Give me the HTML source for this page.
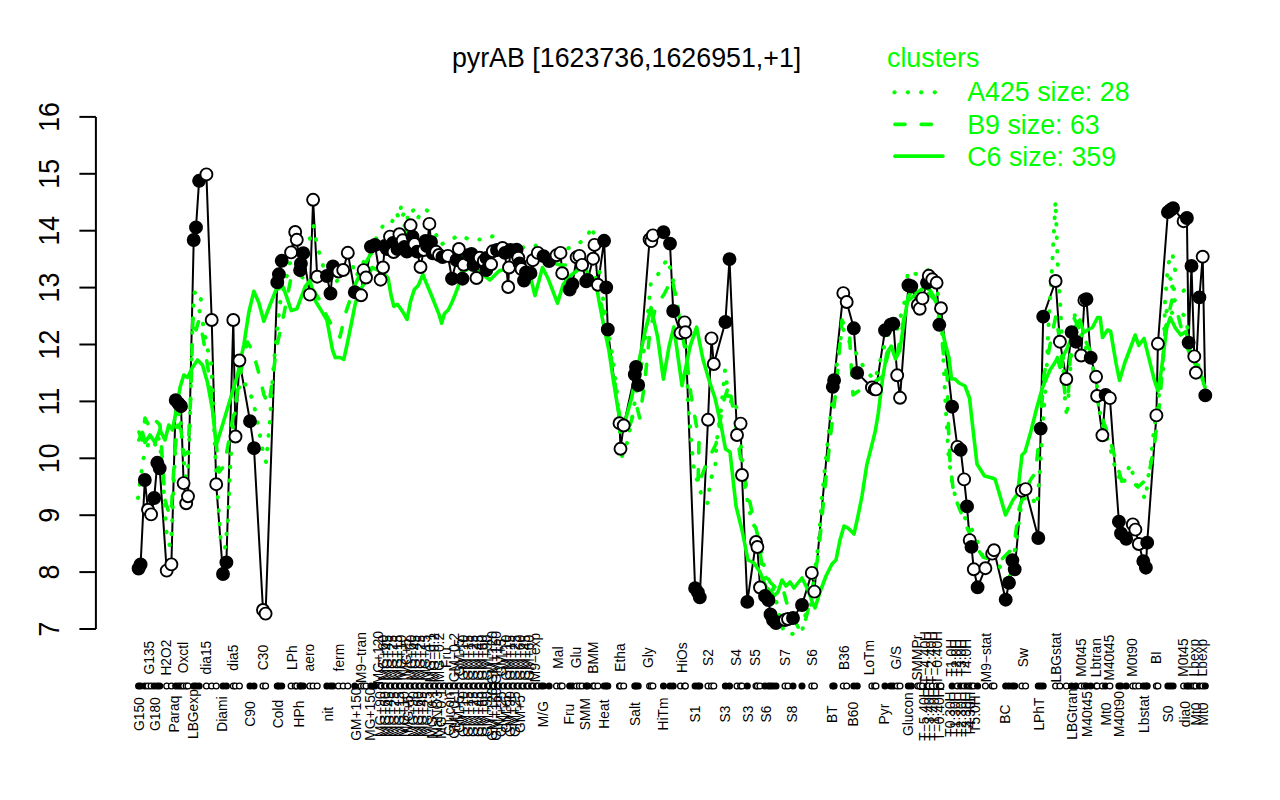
<!DOCTYPE html><html><head><meta charset="utf-8"><style>html,body{margin:0;padding:0;background:#fff;}svg{display:block}</style></head><body>
<svg width="1280" height="800" viewBox="0 0 1280 800" font-family="&quot;Liberation Sans&quot;, sans-serif">
<rect width="1280" height="800" fill="#fff"/>
<text x="626.6" y="67" font-size="26.8" text-anchor="middle" fill="#000">pyrAB [1623736,1626951,+1]</text>
<g stroke="#000" stroke-width="2" fill="none" stroke-linecap="butt">
<line x1="95.9" y1="117" x2="95.9" y2="629"/>
<line x1="79.4" y1="629.0" x2="95.9" y2="629.0"/>
<line x1="79.4" y1="572.1" x2="95.9" y2="572.1"/>
<line x1="79.4" y1="515.2" x2="95.9" y2="515.2"/>
<line x1="79.4" y1="458.3" x2="95.9" y2="458.3"/>
<line x1="79.4" y1="401.4" x2="95.9" y2="401.4"/>
<line x1="79.4" y1="344.5" x2="95.9" y2="344.5"/>
<line x1="79.4" y1="287.6" x2="95.9" y2="287.6"/>
<line x1="79.4" y1="230.7" x2="95.9" y2="230.7"/>
<line x1="79.4" y1="173.8" x2="95.9" y2="173.8"/>
<line x1="79.4" y1="116.9" x2="95.9" y2="116.9"/>
</g>
<g font-size="26.8" fill="#000" text-anchor="middle">
<text transform="translate(58.9,629.0) rotate(-90) scale(1,1.07)" x="0" y="0">7</text>
<text transform="translate(58.9,572.1) rotate(-90) scale(1,1.07)" x="0" y="0">8</text>
<text transform="translate(58.9,515.2) rotate(-90) scale(1,1.07)" x="0" y="0">9</text>
<text transform="translate(58.9,458.3) rotate(-90) scale(1,1.07)" x="0" y="0">10</text>
<text transform="translate(58.9,401.4) rotate(-90) scale(1,1.07)" x="0" y="0">11</text>
<text transform="translate(58.9,344.5) rotate(-90) scale(1,1.07)" x="0" y="0">12</text>
<text transform="translate(58.9,287.6) rotate(-90) scale(1,1.07)" x="0" y="0">13</text>
<text transform="translate(58.9,230.7) rotate(-90) scale(1,1.07)" x="0" y="0">14</text>
<text transform="translate(58.9,173.8) rotate(-90) scale(1,1.07)" x="0" y="0">15</text>
<text transform="translate(58.9,116.9) rotate(-90) scale(1,1.07)" x="0" y="0">16</text>
</g>
<path d="M138.6,568.5 L140.6,564.5 L144.8,480.0 L148.0,509.7 L151.1,514.4 L154.2,498.0 L157.3,462.8 L159.7,468.3 L166.7,570.6 L171.4,564.4 L175.7,400.1 L178.5,403.5 L181.0,406.2 L183.6,483.1 L186.2,503.3 L188.0,496.3 L193.7,240.0 L196.0,227.4 L199.1,180.8 L206.4,174.4 L211.7,320.0 L216.2,484.2 L223.0,574.0 L226.4,562.4 L233.3,320.0 L235.5,436.5 L239.4,360.5 L250.0,421.2 L254.0,448.2 L263.0,610.0 L265.6,613.6 L277.3,282.4 L278.9,274.3 L281.7,260.8 L291.1,252.4 L295.2,232.0 L296.8,239.8 L300.1,270.2 L300.9,263.7 L303.3,253.2 L309.8,294.6 L313.1,199.8 L317.2,276.7 L326.9,276.0 L330.5,293.5 L333.0,266.5 L338.5,271.5 L343.2,270.0 L347.8,252.8 L354.8,292.2 L361.1,295.3 L363.6,270.1 L366.0,277.5 L370.9,246.6 L374.9,245.0 L380.6,279.7 L383.0,267.5 L384.8,246.0 L387.0,249.0 L390.0,236.6 L393.0,243.0 L393.6,252.0 L397.5,249.0 L399.4,234.2 L402.7,240.3 L404.5,247.0 L406.9,251.6 L410.6,225.3 L412.5,236.6 L414.5,244.0 L417.2,251.6 L420.5,267.0 L423.8,250.0 L425.5,241.0 L427.0,246.0 L429.4,223.9 L431.0,242.0 L432.7,253.4 L436.1,251.8 L439.0,255.0 L442.5,257.0 L447.9,255.9 L452.0,278.7 L456.5,260.0 L458.9,249.0 L462.5,278.7 L463.7,264.8 L469.0,255.0 L471.5,254.0 L473.5,265.0 L476.5,278.0 L479.8,257.8 L483.8,261.0 L486.5,258.0 L486.3,270.0 L491.1,264.3 L492.8,251.3 L497.0,250.0 L502.5,248.0 L505.0,252.9 L508.2,287.0 L509.0,267.5 L510.5,250.0 L514.5,252.0 L516.6,249.6 L518.3,257.8 L519.5,263.5 L521.5,269.1 L524.0,280.5 L526.0,272.4 L530.5,273.2 L532.9,260.2 L537.8,252.9 L543.5,256.1 L549.1,261.0 L556.5,255.3 L560.5,252.9 L562.2,273.2 L569.7,289.6 L572.5,284.1 L576.6,257.3 L579.4,255.9 L582.1,264.9 L586.2,281.4 L587.6,280.0 L593.1,258.7 L594.5,244.9 L597.9,284.8 L604.1,240.8 L606.2,287.5 L607.8,329.5 L619.5,423.2 L620.5,448.8 L623.7,425.5 L634.8,374.5 L636.0,367.0 L638.2,385.0 L649.6,239.5 L651.3,241.1 L652.9,235.4 L663.5,232.2 L670.0,243.6 L673.2,311.0 L680.5,333.0 L684.6,322.4 L685.4,332.2 L695.1,588.2 L697.9,592.3 L699.8,597.3 L708.0,419.8 L711.5,338.4 L713.8,364.0 L725.4,322.0 L729.5,259.1 L737.0,435.0 L740.6,423.6 L742.0,475.0 L747.3,601.9 L756.0,542.0 L757.4,547.0 L760.0,587.5 L765.0,596.0 L768.5,600.0 L770.5,614.5 L773.0,620.0 L776.0,623.0 L785.0,620.0 L788.0,619.0 L793.0,618.0 L802.0,605.0 L811.8,572.9 L814.4,591.6 L832.8,386.8 L834.1,380.2 L843.3,293.1 L846.7,302.0 L853.8,328.3 L857.2,372.9 L871.9,387.5 L874.7,389.4 L876.0,389.4 L885.0,330.3 L890.6,324.7 L893.4,323.8 L897.2,375.3 L900.0,397.8 L908.4,285.3 L911.3,286.3 L917.8,305.0 L919.7,308.8 L922.5,298.4 L927.0,282.8 L928.8,275.8 L932.3,279.3 L936.6,282.8 L939.3,324.8 L941.0,308.2 L952.1,406.7 L957.4,446.9 L960.7,449.8 L964.1,479.4 L967.0,506.4 L969.7,540.1 L971.5,546.9 L973.8,569.3 L977.6,587.3 L985.4,568.2 L992.2,553.6 L994.0,550.2 L1005.7,599.7 L1009.0,582.8 L1012.4,560.3 L1014.7,569.3 L1021.9,490.6 L1025.6,489.1 L1038.3,538.0 L1040.7,428.6 L1043.2,316.7 L1055.6,281.0 L1059.9,341.7 L1066.3,379.0 L1071.6,332.1 L1075.9,341.7 L1081.2,355.5 L1084.4,300.2 L1086.5,299.1 L1090.7,357.7 L1096.1,376.8 L1097.1,396.0 L1102.4,435.3 L1105.6,394.9 L1109.9,398.1 L1118.9,521.7 L1121.0,533.5 L1126.2,538.8 L1132.8,524.4 L1135.4,529.6 L1138.8,544.0 L1143.3,561.1 L1145.9,567.7 L1147.2,542.7 L1156.4,415.4 L1157.9,343.8 L1167.9,212.1 L1170.5,210.0 L1173.1,208.1 L1183.6,221.2 L1186.9,218.0 L1188.6,342.6 L1191.5,265.9 L1194.3,356.4 L1195.9,372.7 L1199.4,297.4 L1202.7,256.7 L1205.3,395.4" fill="none" stroke="#000" stroke-width="2" stroke-linejoin="round"/>
<path d="M138.8,440.0 L142.5,432.5 L145.0,442.5 L150.0,435.0 L155.0,442.5 L160.0,430.0 L165.0,440.0 L168.8,425.0 L172.5,430.0 L176.3,410.0 L180.0,387.5 L183.8,375.0 L187.5,377.5 L192.5,367.5 L197.5,360.0 L202.5,365.0 L207.5,382.5 L212.5,410.0 L216.3,445.0 L222.5,425.0 L230.0,400.0 L237.5,375.0 L243.8,345.0 L248.8,312.5 L253.8,291.3 L258.8,302.5 L263.8,321.3 L270.0,305.0 L276.0,290.0 L282.8,286.3 L285.6,293.8 L291.3,310.6 L296.9,308.8 L302.5,293.8 L305.3,286.3 L310.0,280.6 L315.6,301.3 L321.3,310.6 L326.9,320.0 L329.7,335.0 L332.5,350.0 L335.3,357.5 L340.0,357.5 L343.8,359.4 L347.5,342.5 L351.3,323.8 L355.0,305.0 L358.8,291.9 L362.5,286.3 L368.0,277.0 L372.0,267.5 L378.0,270.0 L385.0,275.0 L388.1,278.1 L391.0,295.0 L393.8,306.3 L397.5,304.4 L400.3,308.2 L404.0,313.8 L407.0,319.4 L410.7,300.7 L414.4,289.4 L418.2,285.6 L422.9,274.4 L426.6,283.8 L431.3,295.0 L435.0,304.4 L438.8,313.8 L441.6,323.2 L444.4,313.8 L448.2,310.0 L451.9,302.5 L455.7,293.2 L458.5,285.6 L461.3,272.5 L470.0,268.0 L480.0,272.0 L486.0,277.0 L490.0,280.0 L499.0,271.0 L510.0,268.0 L520.0,270.0 L527.0,272.0 L531.3,280.6 L535.0,295.6 L542.5,267.5 L548.2,278.8 L557.5,303.2 L563.2,284.4 L570.0,276.0 L578.0,270.0 L585.0,265.0 L589.3,280.0 L595.8,281.5 L599.0,301.0 L604.0,327.0 L608.8,349.8 L613.7,382.4 L617.9,408.4 L621.8,431.1 L625.0,421.4 L631.5,398.6 L638.0,366.1 L644.6,333.6 L651.0,307.6 L657.6,336.8 L663.4,379.1 L669.0,346.6 L673.8,327.1 L682.0,385.6 L690.0,346.6 L696.6,327.1 L703.0,359.6 L709.0,380.0 L715.0,398.0 L721.0,425.0 L725.5,449.0 L730.0,452.0 L733.0,479.0 L736.0,506.0 L742.0,530.0 L748.0,560.0 L754.0,563.0 L760.0,572.0 L766.0,587.0 L772.0,593.0 L774.0,596.0 L778.0,592.0 L782.0,580.0 L786.0,586.0 L790.0,582.0 L794.0,588.0 L802.0,578.0 L808.0,590.0 L813.0,604.0 L815.0,608.0 L820.0,592.0 L826.0,576.0 L832.0,564.0 L836.0,560.0 L840.0,540.0 L844.0,526.0 L848.0,528.0 L854.0,534.0 L858.0,516.0 L862.0,496.0 L866.7,465.4 L872.5,442.4 L875.3,431.0 L878.2,413.7 L882.5,379.2 L886.8,353.3 L891.2,346.1 L895.5,359.0 L899.8,350.5 L904.0,321.7 L908.4,295.9 L912.7,290.0 L917.0,293.0 L924.2,287.2 L930.0,290.0 L935.7,300.0 L939.3,316.0 L942.8,333.5 L946.3,347.5 L949.0,358.0 L951.5,379.0 L955.0,379.0 L959.0,383.0 L965.0,386.0 L969.5,398.0 L972.5,425.0 L977.0,464.0 L984.5,476.0 L990.5,477.5 L995.0,479.0 L999.5,494.0 L1005.5,515.0 L1010.0,506.0 L1013.0,500.0 L1017.5,494.0 L1022.0,455.0 L1025.0,452.0 L1031.0,431.0 L1037.0,407.0 L1042.5,387.5 L1050.0,370.0 L1055.0,362.5 L1057.5,357.5 L1060.0,367.5 L1063.8,355.0 L1067.5,347.5 L1072.5,335.0 L1076.3,325.0 L1080.0,320.0 L1083.8,332.5 L1087.5,330.0 L1092.5,327.5 L1097.5,317.5 L1100.2,317.5 L1102.5,337.5 L1107.5,330.0 L1110.7,331.5 L1112.5,342.5 L1116.0,363.0 L1119.5,380.5 L1124.7,363.0 L1130.0,349.0 L1135.2,335.0 L1138.7,345.5 L1144.0,338.5 L1149.2,359.4 L1154.4,380.4 L1158.0,391.0 L1161.4,370.0 L1166.7,328.0 L1170.2,317.5 L1175.4,328.0 L1180.7,335.0 L1186.0,331.5 L1191.0,356.0 L1196.4,366.4 L1201.6,377.0 L1205.0,387.4" fill="none" stroke="#00ff00" stroke-width="3.6" stroke-linejoin="round" stroke-linecap="round"/>
<path d="M139.0,432.0 L142.0,440.0 L145.0,418.0 L150.0,428.0 L155.0,420.0 L160.0,425.0 L163.0,470.0 L165.0,500.0 L168.0,510.0 L171.0,516.0 L173.0,482.0 L175.0,450.0 L178.0,425.0 L181.0,430.0 L184.0,455.0 L188.0,452.0 L191.0,390.0 L193.0,315.0 L196.0,330.0 L199.0,320.0 L203.0,337.0 L209.0,375.0 L214.0,420.0 L219.0,472.0 L224.0,466.0 L229.0,440.0 L236.0,400.0 L242.0,365.0 L247.5,342.0 L253.0,352.0 L258.0,370.0 L264.0,395.0 L269.0,405.0 L273.0,375.0 L277.0,345.0 L282.8,320.0 L288.4,291.0 L293.0,268.0 L300.0,275.0 L310.0,285.0 L319.4,299.4 L323.0,308.8 L330.0,322.0 L334.4,331.0 L340.0,337.0 L345.6,313.0 L350.0,300.0 L355.0,285.0 L362.0,270.0 L370.0,255.0 L380.0,245.0 L390.0,240.0 L400.0,230.0 L405.0,225.0 L410.0,240.0 L420.0,245.0 L430.0,238.0 L440.0,250.0 L450.0,262.0 L460.0,255.0 L470.0,258.0 L480.0,255.0 L490.0,262.0 L500.0,258.0 L510.0,255.0 L520.0,260.0 L530.0,258.0 L540.0,255.0 L550.0,262.0 L560.0,265.0 L570.0,265.0 L580.0,262.0 L592.5,262.0 L597.0,285.0 L602.0,307.6 L605.5,320.6 L610.0,350.0 L615.3,385.6 L620.0,420.0 L625.0,430.0 L630.0,425.0 L636.4,405.0 L639.7,418.0 L645.0,380.0 L650.0,330.0 L655.0,310.0 L660.0,300.0 L664.0,294.5 L667.3,288.0 L672.2,278.3 L678.0,310.0 L686.8,359.6 L691.0,395.0 L699.0,440.0 L698.0,486.0 L707.0,462.0 L716.0,444.0 L724.0,400.0 L729.0,385.0 L735.0,420.0 L741.0,462.0 L752.0,512.0 L758.0,537.0 L762.0,566.0 L770.0,582.0 L776.0,588.0 L782.0,585.0 L787.0,604.0 L790.0,610.0 L798.0,627.0 L803.0,630.0 L808.0,610.0 L814.0,580.0 L818.0,556.0 L821.0,528.0 L823.6,500.0 L830.0,440.0 L836.0,390.0 L842.0,320.0 L849.5,336.0 L853.0,395.0 L860.0,390.0 L870.0,385.0 L882.5,376.3 L889.7,347.6 L897.0,356.0 L907.0,301.6 L915.0,295.0 L925.0,290.0 L935.0,300.0 L941.0,330.0 L944.3,362.0 L947.2,376.3 L948.6,431.0 L950.0,461.0 L953.0,488.0 L956.0,500.0 L962.0,515.0 L968.0,530.0 L977.0,548.0 L983.0,557.0 L992.0,560.0 L1001.0,560.0 L1010.0,551.0 L1014.5,542.0 L1019.0,509.0 L1025.0,491.0 L1031.0,479.0 L1035.5,473.0 L1040.0,430.0 L1044.0,375.0 L1052.5,332.5 L1056.0,315.0 L1061.0,350.0 L1065.0,395.0 L1068.0,400.0 L1072.5,315.0 L1080.0,330.0 L1090.0,350.0 L1100.0,415.0 L1103.0,420.0 L1110.0,440.0 L1122.0,482.0 L1130.0,480.0 L1138.0,487.0 L1148.0,478.0 L1154.0,448.0 L1160.0,400.0 L1165.0,330.0 L1172.0,300.0 L1178.0,315.0 L1183.0,335.0 L1190.0,355.0 L1197.0,375.0 L1205.0,390.0" fill="none" stroke="#00ff00" stroke-width="3.6" stroke-linejoin="round" stroke-linecap="round" stroke-dasharray="10.2 16.6"/>
<path d="M138.0,498.0 L141.0,475.0 L143.0,460.0 L146.0,450.0 L150.0,440.0 L155.0,445.0 L158.0,435.0 L162.0,460.0 L165.0,512.0 L167.0,538.0 L170.0,546.0 L172.0,530.0 L173.0,500.0 L175.0,455.0 L177.0,418.0 L180.0,412.0 L183.0,455.0 L186.0,478.0 L188.0,470.0 L190.0,420.0 L192.0,340.0 L193.7,293.5 L198.2,290.5 L201.0,300.0 L197.5,304.0 L202.7,322.0 L207.2,348.0 L211.0,361.0 L212.5,387.0 L215.0,450.0 L218.0,500.0 L221.0,545.0 L225.0,548.0 L228.0,520.0 L230.0,470.0 L233.0,425.0 L238.0,390.0 L243.0,380.0 L248.0,390.0 L253.0,400.0 L258.0,425.0 L263.0,452.0 L266.0,462.0 L270.0,420.0 L272.0,386.0 L274.0,361.0 L280.0,303.0 L286.6,277.0 L289.4,263.8 L295.0,258.0 L300.0,262.0 L305.0,252.0 L308.0,250.0 L311.0,232.0 L313.5,226.0 L316.0,240.0 L319.4,253.4 L323.0,265.6 L333.4,284.4 L340.0,278.0 L345.0,275.0 L352.2,263.8 L356.0,277.0 L362.0,265.0 L370.0,250.0 L378.0,235.0 L385.0,222.0 L392.0,222.0 L396.0,212.0 L399.0,218.0 L401.3,205.0 L403.0,215.0 L406.0,210.0 L408.0,220.0 L411.0,212.0 L415.3,208.8 L418.0,218.0 L421.0,212.0 L424.7,208.8 L428.5,211.6 L430.0,220.0 L435.0,232.0 L440.0,245.0 L450.0,240.0 L460.0,235.0 L470.0,240.0 L478.8,239.4 L486.3,239.4 L493.8,235.6 L500.0,248.0 L510.0,252.0 L520.0,248.0 L535.0,245.0 L545.0,255.0 L555.0,258.0 L565.0,250.0 L574.4,245.0 L585.0,240.0 L592.5,226.3 L598.0,260.0 L605.5,317.3 L612.0,353.0 L617.0,392.0 L621.8,457.0 L628.0,440.0 L634.8,402.0 L644.6,346.6 L651.0,281.5 L657.6,275.0 L667.3,258.8 L672.2,275.0 L680.3,320.6 L686.8,353.0 L688.0,404.0 L692.5,455.0 L694.0,470.0 L703.0,500.0 L707.5,503.0 L710.5,479.0 L715.0,470.0 L716.5,443.0 L721.0,410.0 L725.0,370.0 L727.0,385.0 L729.0,405.0 L733.0,398.0 L736.0,405.0 L739.0,425.0 L745.0,488.0 L751.0,518.0 L758.5,536.0 L766.0,578.0 L773.5,590.0 L784.0,633.0 L792.0,634.0 L802.0,632.0 L806.0,612.0 L810.0,610.0 L816.0,562.0 L818.0,548.0 L820.0,524.0 L822.0,496.0 L830.0,420.0 L836.0,370.0 L842.3,327.5 L852.4,347.6 L858.1,356.2 L865.0,370.0 L875.0,380.0 L883.0,350.0 L890.0,330.0 L897.0,330.0 L905.0,300.0 L908.0,271.0 L912.0,273.0 L920.0,275.0 L928.0,270.0 L935.0,280.0 L941.0,310.0 L945.5,404.0 L948.5,455.0 L951.5,479.0 L956.0,500.0 L965.0,518.0 L975.5,536.0 L981.5,554.0 L987.5,560.0 L995.0,557.0 L999.5,566.0 L1007.0,584.0 L1011.5,572.0 L1016.0,542.0 L1019.0,521.0 L1022.0,500.0 L1030.0,495.0 L1037.0,506.0 L1040.0,470.0 L1043.0,420.0 L1045.0,395.0 L1047.0,362.0 L1048.0,334.0 L1050.0,300.0 L1052.0,268.0 L1055.5,201.0 L1058.0,272.0 L1060.0,300.0 L1061.0,320.0 L1063.0,360.0 L1065.0,400.0 L1067.0,417.0 L1071.0,360.0 L1075.0,312.5 L1082.5,340.0 L1095.0,370.0 L1101.0,420.0 L1107.5,440.0 L1110.7,450.0 L1114.2,464.0 L1119.5,478.0 L1123.0,485.0 L1130.0,464.0 L1135.2,482.0 L1140.5,492.0 L1145.7,499.0 L1147.4,482.0 L1151.0,461.0 L1152.7,440.0 L1158.0,401.0 L1163.2,370.0 L1165.0,302.0 L1168.0,264.8 L1172.3,253.0 L1175.2,270.5 L1168.0,276.3 L1176.6,285.0 L1166.6,289.0 L1185.2,289.2 L1176.6,297.8 L1163.7,315.0 L1179.5,310.8 L1185.2,316.5 L1190.0,340.0 L1196.0,360.0 L1202.0,375.0 L1205.0,390.0" fill="none" stroke="#00ff00" stroke-width="4.0" stroke-linejoin="round" stroke-linecap="round" stroke-dasharray="0.5 12.9"/>
<circle cx="138.6" cy="568.5" r="6.0" fill="#000" stroke="#000" stroke-width="1.9"/>
<circle cx="140.6" cy="564.5" r="6.0" fill="#000" stroke="#000" stroke-width="1.9"/>
<circle cx="144.8" cy="480.0" r="6.0" fill="#000" stroke="#000" stroke-width="1.9"/>
<circle cx="148.0" cy="509.7" r="6.0" fill="#fff" stroke="#000" stroke-width="1.9"/>
<circle cx="151.1" cy="514.4" r="6.0" fill="#fff" stroke="#000" stroke-width="1.9"/>
<circle cx="154.2" cy="498.0" r="6.0" fill="#000" stroke="#000" stroke-width="1.9"/>
<circle cx="157.3" cy="462.8" r="6.0" fill="#000" stroke="#000" stroke-width="1.9"/>
<circle cx="159.7" cy="468.3" r="6.0" fill="#000" stroke="#000" stroke-width="1.9"/>
<circle cx="166.7" cy="570.6" r="6.0" fill="#fff" stroke="#000" stroke-width="1.9"/>
<circle cx="171.4" cy="564.4" r="6.0" fill="#fff" stroke="#000" stroke-width="1.9"/>
<circle cx="175.7" cy="400.1" r="6.0" fill="#000" stroke="#000" stroke-width="1.9"/>
<circle cx="178.5" cy="403.5" r="6.0" fill="#000" stroke="#000" stroke-width="1.9"/>
<circle cx="181.0" cy="406.2" r="6.0" fill="#000" stroke="#000" stroke-width="1.9"/>
<circle cx="183.6" cy="483.1" r="6.0" fill="#fff" stroke="#000" stroke-width="1.9"/>
<circle cx="186.2" cy="503.3" r="6.0" fill="#fff" stroke="#000" stroke-width="1.9"/>
<circle cx="188.0" cy="496.3" r="6.0" fill="#fff" stroke="#000" stroke-width="1.9"/>
<circle cx="193.7" cy="240.0" r="6.0" fill="#000" stroke="#000" stroke-width="1.9"/>
<circle cx="196.0" cy="227.4" r="6.0" fill="#000" stroke="#000" stroke-width="1.9"/>
<circle cx="199.1" cy="180.8" r="6.0" fill="#000" stroke="#000" stroke-width="1.9"/>
<circle cx="206.4" cy="174.4" r="6.0" fill="#fff" stroke="#000" stroke-width="1.9"/>
<circle cx="211.7" cy="320.0" r="6.0" fill="#fff" stroke="#000" stroke-width="1.9"/>
<circle cx="216.2" cy="484.2" r="6.0" fill="#fff" stroke="#000" stroke-width="1.9"/>
<circle cx="223.0" cy="574.0" r="6.0" fill="#000" stroke="#000" stroke-width="1.9"/>
<circle cx="226.4" cy="562.4" r="6.0" fill="#000" stroke="#000" stroke-width="1.9"/>
<circle cx="233.3" cy="320.0" r="6.0" fill="#fff" stroke="#000" stroke-width="1.9"/>
<circle cx="235.5" cy="436.5" r="6.0" fill="#fff" stroke="#000" stroke-width="1.9"/>
<circle cx="239.4" cy="360.5" r="6.0" fill="#fff" stroke="#000" stroke-width="1.9"/>
<circle cx="250.0" cy="421.2" r="6.0" fill="#000" stroke="#000" stroke-width="1.9"/>
<circle cx="254.0" cy="448.2" r="6.0" fill="#000" stroke="#000" stroke-width="1.9"/>
<circle cx="263.0" cy="610.0" r="6.0" fill="#fff" stroke="#000" stroke-width="1.9"/>
<circle cx="265.6" cy="613.6" r="6.0" fill="#fff" stroke="#000" stroke-width="1.9"/>
<circle cx="277.3" cy="282.4" r="6.0" fill="#000" stroke="#000" stroke-width="1.9"/>
<circle cx="278.9" cy="274.3" r="6.0" fill="#000" stroke="#000" stroke-width="1.9"/>
<circle cx="281.7" cy="260.8" r="6.0" fill="#000" stroke="#000" stroke-width="1.9"/>
<circle cx="291.1" cy="252.4" r="6.0" fill="#fff" stroke="#000" stroke-width="1.9"/>
<circle cx="295.2" cy="232.0" r="6.0" fill="#fff" stroke="#000" stroke-width="1.9"/>
<circle cx="296.8" cy="239.8" r="6.0" fill="#fff" stroke="#000" stroke-width="1.9"/>
<circle cx="300.1" cy="270.2" r="6.0" fill="#000" stroke="#000" stroke-width="1.9"/>
<circle cx="300.9" cy="263.7" r="6.0" fill="#000" stroke="#000" stroke-width="1.9"/>
<circle cx="303.3" cy="253.2" r="6.0" fill="#000" stroke="#000" stroke-width="1.9"/>
<circle cx="309.8" cy="294.6" r="6.0" fill="#fff" stroke="#000" stroke-width="1.9"/>
<circle cx="313.1" cy="199.8" r="6.0" fill="#fff" stroke="#000" stroke-width="1.9"/>
<circle cx="317.2" cy="276.7" r="6.0" fill="#fff" stroke="#000" stroke-width="1.9"/>
<circle cx="326.9" cy="276.0" r="6.0" fill="#000" stroke="#000" stroke-width="1.9"/>
<circle cx="330.5" cy="293.5" r="6.0" fill="#000" stroke="#000" stroke-width="1.9"/>
<circle cx="333.0" cy="266.5" r="6.0" fill="#000" stroke="#000" stroke-width="1.9"/>
<circle cx="338.5" cy="271.5" r="6.0" fill="#fff" stroke="#000" stroke-width="1.9"/>
<circle cx="343.2" cy="270.0" r="6.0" fill="#fff" stroke="#000" stroke-width="1.9"/>
<circle cx="347.8" cy="252.8" r="6.0" fill="#fff" stroke="#000" stroke-width="1.9"/>
<circle cx="354.8" cy="292.2" r="6.0" fill="#000" stroke="#000" stroke-width="1.9"/>
<circle cx="361.1" cy="295.3" r="6.0" fill="#fff" stroke="#000" stroke-width="1.9"/>
<circle cx="363.6" cy="270.1" r="6.0" fill="#fff" stroke="#000" stroke-width="1.9"/>
<circle cx="366.0" cy="277.5" r="6.0" fill="#fff" stroke="#000" stroke-width="1.9"/>
<circle cx="370.9" cy="246.6" r="6.0" fill="#000" stroke="#000" stroke-width="1.9"/>
<circle cx="374.9" cy="245.0" r="6.0" fill="#000" stroke="#000" stroke-width="1.9"/>
<circle cx="380.6" cy="279.7" r="6.0" fill="#fff" stroke="#000" stroke-width="1.9"/>
<circle cx="383.0" cy="267.5" r="6.0" fill="#fff" stroke="#000" stroke-width="1.9"/>
<circle cx="384.8" cy="246.0" r="6.0" fill="#000" stroke="#000" stroke-width="1.9"/>
<circle cx="387.0" cy="249.0" r="6.0" fill="#000" stroke="#000" stroke-width="1.9"/>
<circle cx="390.0" cy="236.6" r="6.0" fill="#fff" stroke="#000" stroke-width="1.9"/>
<circle cx="393.0" cy="243.0" r="6.0" fill="#000" stroke="#000" stroke-width="1.9"/>
<circle cx="393.6" cy="252.0" r="6.0" fill="#fff" stroke="#000" stroke-width="1.9"/>
<circle cx="397.5" cy="249.0" r="6.0" fill="#000" stroke="#000" stroke-width="1.9"/>
<circle cx="399.4" cy="234.2" r="6.0" fill="#fff" stroke="#000" stroke-width="1.9"/>
<circle cx="402.7" cy="240.3" r="6.0" fill="#fff" stroke="#000" stroke-width="1.9"/>
<circle cx="404.5" cy="247.0" r="6.0" fill="#000" stroke="#000" stroke-width="1.9"/>
<circle cx="406.9" cy="251.6" r="6.0" fill="#000" stroke="#000" stroke-width="1.9"/>
<circle cx="410.6" cy="225.3" r="6.0" fill="#fff" stroke="#000" stroke-width="1.9"/>
<circle cx="412.5" cy="236.6" r="6.0" fill="#000" stroke="#000" stroke-width="1.9"/>
<circle cx="414.5" cy="244.0" r="6.0" fill="#fff" stroke="#000" stroke-width="1.9"/>
<circle cx="417.2" cy="251.6" r="6.0" fill="#000" stroke="#000" stroke-width="1.9"/>
<circle cx="420.5" cy="267.0" r="6.0" fill="#fff" stroke="#000" stroke-width="1.9"/>
<circle cx="423.8" cy="250.0" r="6.0" fill="#fff" stroke="#000" stroke-width="1.9"/>
<circle cx="425.5" cy="241.0" r="6.0" fill="#000" stroke="#000" stroke-width="1.9"/>
<circle cx="427.0" cy="246.0" r="6.0" fill="#000" stroke="#000" stroke-width="1.9"/>
<circle cx="429.4" cy="223.9" r="6.0" fill="#fff" stroke="#000" stroke-width="1.9"/>
<circle cx="431.0" cy="242.0" r="6.0" fill="#000" stroke="#000" stroke-width="1.9"/>
<circle cx="432.7" cy="253.4" r="6.0" fill="#000" stroke="#000" stroke-width="1.9"/>
<circle cx="436.1" cy="251.8" r="6.0" fill="#fff" stroke="#000" stroke-width="1.9"/>
<circle cx="439.0" cy="255.0" r="6.0" fill="#fff" stroke="#000" stroke-width="1.9"/>
<circle cx="442.5" cy="257.0" r="6.0" fill="#000" stroke="#000" stroke-width="1.9"/>
<circle cx="447.9" cy="255.9" r="6.0" fill="#fff" stroke="#000" stroke-width="1.9"/>
<circle cx="452.0" cy="278.7" r="6.0" fill="#000" stroke="#000" stroke-width="1.9"/>
<circle cx="456.5" cy="260.0" r="6.0" fill="#000" stroke="#000" stroke-width="1.9"/>
<circle cx="458.9" cy="249.0" r="6.0" fill="#fff" stroke="#000" stroke-width="1.9"/>
<circle cx="462.5" cy="278.7" r="6.0" fill="#000" stroke="#000" stroke-width="1.9"/>
<circle cx="463.7" cy="264.8" r="6.0" fill="#fff" stroke="#000" stroke-width="1.9"/>
<circle cx="469.0" cy="255.0" r="6.0" fill="#000" stroke="#000" stroke-width="1.9"/>
<circle cx="471.5" cy="254.0" r="6.0" fill="#000" stroke="#000" stroke-width="1.9"/>
<circle cx="473.5" cy="265.0" r="6.0" fill="#000" stroke="#000" stroke-width="1.9"/>
<circle cx="476.5" cy="278.0" r="6.0" fill="#fff" stroke="#000" stroke-width="1.9"/>
<circle cx="479.8" cy="257.8" r="6.0" fill="#fff" stroke="#000" stroke-width="1.9"/>
<circle cx="483.8" cy="261.0" r="6.0" fill="#fff" stroke="#000" stroke-width="1.9"/>
<circle cx="486.5" cy="258.0" r="6.0" fill="#000" stroke="#000" stroke-width="1.9"/>
<circle cx="486.3" cy="270.0" r="6.0" fill="#000" stroke="#000" stroke-width="1.9"/>
<circle cx="491.1" cy="264.3" r="6.0" fill="#fff" stroke="#000" stroke-width="1.9"/>
<circle cx="492.8" cy="251.3" r="6.0" fill="#fff" stroke="#000" stroke-width="1.9"/>
<circle cx="497.0" cy="250.0" r="6.0" fill="#000" stroke="#000" stroke-width="1.9"/>
<circle cx="502.5" cy="248.0" r="6.0" fill="#fff" stroke="#000" stroke-width="1.9"/>
<circle cx="505.0" cy="252.9" r="6.0" fill="#000" stroke="#000" stroke-width="1.9"/>
<circle cx="508.2" cy="287.0" r="6.0" fill="#fff" stroke="#000" stroke-width="1.9"/>
<circle cx="509.0" cy="267.5" r="6.0" fill="#fff" stroke="#000" stroke-width="1.9"/>
<circle cx="510.5" cy="250.0" r="6.0" fill="#000" stroke="#000" stroke-width="1.9"/>
<circle cx="514.5" cy="252.0" r="6.0" fill="#000" stroke="#000" stroke-width="1.9"/>
<circle cx="516.6" cy="249.6" r="6.0" fill="#000" stroke="#000" stroke-width="1.9"/>
<circle cx="518.3" cy="257.8" r="6.0" fill="#fff" stroke="#000" stroke-width="1.9"/>
<circle cx="519.5" cy="263.5" r="6.0" fill="#000" stroke="#000" stroke-width="1.9"/>
<circle cx="521.5" cy="269.1" r="6.0" fill="#fff" stroke="#000" stroke-width="1.9"/>
<circle cx="524.0" cy="280.5" r="6.0" fill="#000" stroke="#000" stroke-width="1.9"/>
<circle cx="526.0" cy="272.4" r="6.0" fill="#000" stroke="#000" stroke-width="1.9"/>
<circle cx="530.5" cy="273.2" r="6.0" fill="#000" stroke="#000" stroke-width="1.9"/>
<circle cx="532.9" cy="260.2" r="6.0" fill="#fff" stroke="#000" stroke-width="1.9"/>
<circle cx="537.8" cy="252.9" r="6.0" fill="#fff" stroke="#000" stroke-width="1.9"/>
<circle cx="543.5" cy="256.1" r="6.0" fill="#000" stroke="#000" stroke-width="1.9"/>
<circle cx="549.1" cy="261.0" r="6.0" fill="#000" stroke="#000" stroke-width="1.9"/>
<circle cx="556.5" cy="255.3" r="6.0" fill="#fff" stroke="#000" stroke-width="1.9"/>
<circle cx="560.5" cy="252.9" r="6.0" fill="#fff" stroke="#000" stroke-width="1.9"/>
<circle cx="562.2" cy="273.2" r="6.0" fill="#fff" stroke="#000" stroke-width="1.9"/>
<circle cx="569.7" cy="289.6" r="6.0" fill="#000" stroke="#000" stroke-width="1.9"/>
<circle cx="572.5" cy="284.1" r="6.0" fill="#000" stroke="#000" stroke-width="1.9"/>
<circle cx="576.6" cy="257.3" r="6.0" fill="#fff" stroke="#000" stroke-width="1.9"/>
<circle cx="579.4" cy="255.9" r="6.0" fill="#fff" stroke="#000" stroke-width="1.9"/>
<circle cx="582.1" cy="264.9" r="6.0" fill="#fff" stroke="#000" stroke-width="1.9"/>
<circle cx="586.2" cy="281.4" r="6.0" fill="#000" stroke="#000" stroke-width="1.9"/>
<circle cx="587.6" cy="280.0" r="6.0" fill="#000" stroke="#000" stroke-width="1.9"/>
<circle cx="593.1" cy="258.7" r="6.0" fill="#fff" stroke="#000" stroke-width="1.9"/>
<circle cx="594.5" cy="244.9" r="6.0" fill="#fff" stroke="#000" stroke-width="1.9"/>
<circle cx="597.9" cy="284.8" r="6.0" fill="#fff" stroke="#000" stroke-width="1.9"/>
<circle cx="604.1" cy="240.8" r="6.0" fill="#000" stroke="#000" stroke-width="1.9"/>
<circle cx="606.2" cy="287.5" r="6.0" fill="#000" stroke="#000" stroke-width="1.9"/>
<circle cx="607.8" cy="329.5" r="6.0" fill="#000" stroke="#000" stroke-width="1.9"/>
<circle cx="619.5" cy="423.2" r="6.0" fill="#fff" stroke="#000" stroke-width="1.9"/>
<circle cx="620.5" cy="448.8" r="6.0" fill="#fff" stroke="#000" stroke-width="1.9"/>
<circle cx="623.7" cy="425.5" r="6.0" fill="#fff" stroke="#000" stroke-width="1.9"/>
<circle cx="634.8" cy="374.5" r="6.0" fill="#000" stroke="#000" stroke-width="1.9"/>
<circle cx="636.0" cy="367.0" r="6.0" fill="#000" stroke="#000" stroke-width="1.9"/>
<circle cx="638.2" cy="385.0" r="6.0" fill="#000" stroke="#000" stroke-width="1.9"/>
<circle cx="649.6" cy="239.5" r="6.0" fill="#fff" stroke="#000" stroke-width="1.9"/>
<circle cx="651.3" cy="241.1" r="6.0" fill="#fff" stroke="#000" stroke-width="1.9"/>
<circle cx="652.9" cy="235.4" r="6.0" fill="#fff" stroke="#000" stroke-width="1.9"/>
<circle cx="663.5" cy="232.2" r="6.0" fill="#000" stroke="#000" stroke-width="1.9"/>
<circle cx="670.0" cy="243.6" r="6.0" fill="#000" stroke="#000" stroke-width="1.9"/>
<circle cx="673.2" cy="311.0" r="6.0" fill="#000" stroke="#000" stroke-width="1.9"/>
<circle cx="680.5" cy="333.0" r="6.0" fill="#fff" stroke="#000" stroke-width="1.9"/>
<circle cx="684.6" cy="322.4" r="6.0" fill="#fff" stroke="#000" stroke-width="1.9"/>
<circle cx="685.4" cy="332.2" r="6.0" fill="#fff" stroke="#000" stroke-width="1.9"/>
<circle cx="695.1" cy="588.2" r="6.0" fill="#000" stroke="#000" stroke-width="1.9"/>
<circle cx="697.9" cy="592.3" r="6.0" fill="#000" stroke="#000" stroke-width="1.9"/>
<circle cx="699.8" cy="597.3" r="6.0" fill="#000" stroke="#000" stroke-width="1.9"/>
<circle cx="708.0" cy="419.8" r="6.0" fill="#fff" stroke="#000" stroke-width="1.9"/>
<circle cx="711.5" cy="338.4" r="6.0" fill="#fff" stroke="#000" stroke-width="1.9"/>
<circle cx="713.8" cy="364.0" r="6.0" fill="#fff" stroke="#000" stroke-width="1.9"/>
<circle cx="725.4" cy="322.0" r="6.0" fill="#000" stroke="#000" stroke-width="1.9"/>
<circle cx="729.5" cy="259.1" r="6.0" fill="#000" stroke="#000" stroke-width="1.9"/>
<circle cx="737.0" cy="435.0" r="6.0" fill="#fff" stroke="#000" stroke-width="1.9"/>
<circle cx="740.6" cy="423.6" r="6.0" fill="#fff" stroke="#000" stroke-width="1.9"/>
<circle cx="742.0" cy="475.0" r="6.0" fill="#fff" stroke="#000" stroke-width="1.9"/>
<circle cx="747.3" cy="601.9" r="6.0" fill="#000" stroke="#000" stroke-width="1.9"/>
<circle cx="756.0" cy="542.0" r="6.0" fill="#fff" stroke="#000" stroke-width="1.9"/>
<circle cx="757.4" cy="547.0" r="6.0" fill="#fff" stroke="#000" stroke-width="1.9"/>
<circle cx="760.0" cy="587.5" r="6.0" fill="#fff" stroke="#000" stroke-width="1.9"/>
<circle cx="765.0" cy="596.0" r="6.0" fill="#000" stroke="#000" stroke-width="1.9"/>
<circle cx="768.5" cy="600.0" r="6.0" fill="#000" stroke="#000" stroke-width="1.9"/>
<circle cx="770.5" cy="614.5" r="6.0" fill="#000" stroke="#000" stroke-width="1.9"/>
<circle cx="773.0" cy="620.0" r="6.0" fill="#000" stroke="#000" stroke-width="1.9"/>
<circle cx="776.0" cy="623.0" r="6.0" fill="#000" stroke="#000" stroke-width="1.9"/>
<circle cx="785.0" cy="620.0" r="6.0" fill="#fff" stroke="#000" stroke-width="1.9"/>
<circle cx="788.0" cy="619.0" r="6.0" fill="#fff" stroke="#000" stroke-width="1.9"/>
<circle cx="793.0" cy="618.0" r="6.0" fill="#000" stroke="#000" stroke-width="1.9"/>
<circle cx="802.0" cy="605.0" r="6.0" fill="#000" stroke="#000" stroke-width="1.9"/>
<circle cx="811.8" cy="572.9" r="6.0" fill="#fff" stroke="#000" stroke-width="1.9"/>
<circle cx="814.4" cy="591.6" r="6.0" fill="#fff" stroke="#000" stroke-width="1.9"/>
<circle cx="832.8" cy="386.8" r="6.0" fill="#000" stroke="#000" stroke-width="1.9"/>
<circle cx="834.1" cy="380.2" r="6.0" fill="#000" stroke="#000" stroke-width="1.9"/>
<circle cx="843.3" cy="293.1" r="6.0" fill="#fff" stroke="#000" stroke-width="1.9"/>
<circle cx="846.7" cy="302.0" r="6.0" fill="#fff" stroke="#000" stroke-width="1.9"/>
<circle cx="853.8" cy="328.3" r="6.0" fill="#000" stroke="#000" stroke-width="1.9"/>
<circle cx="857.2" cy="372.9" r="6.0" fill="#000" stroke="#000" stroke-width="1.9"/>
<circle cx="871.9" cy="387.5" r="6.0" fill="#fff" stroke="#000" stroke-width="1.9"/>
<circle cx="874.7" cy="389.4" r="6.0" fill="#fff" stroke="#000" stroke-width="1.9"/>
<circle cx="876.0" cy="389.4" r="6.0" fill="#fff" stroke="#000" stroke-width="1.9"/>
<circle cx="885.0" cy="330.3" r="6.0" fill="#000" stroke="#000" stroke-width="1.9"/>
<circle cx="890.6" cy="324.7" r="6.0" fill="#000" stroke="#000" stroke-width="1.9"/>
<circle cx="893.4" cy="323.8" r="6.0" fill="#000" stroke="#000" stroke-width="1.9"/>
<circle cx="897.2" cy="375.3" r="6.0" fill="#fff" stroke="#000" stroke-width="1.9"/>
<circle cx="900.0" cy="397.8" r="6.0" fill="#fff" stroke="#000" stroke-width="1.9"/>
<circle cx="908.4" cy="285.3" r="6.0" fill="#000" stroke="#000" stroke-width="1.9"/>
<circle cx="911.3" cy="286.3" r="6.0" fill="#000" stroke="#000" stroke-width="1.9"/>
<circle cx="917.8" cy="305.0" r="6.0" fill="#fff" stroke="#000" stroke-width="1.9"/>
<circle cx="919.7" cy="308.8" r="6.0" fill="#fff" stroke="#000" stroke-width="1.9"/>
<circle cx="922.5" cy="298.4" r="6.0" fill="#fff" stroke="#000" stroke-width="1.9"/>
<circle cx="927.0" cy="282.8" r="6.0" fill="#000" stroke="#000" stroke-width="1.9"/>
<circle cx="928.8" cy="275.8" r="6.0" fill="#fff" stroke="#000" stroke-width="1.9"/>
<circle cx="932.3" cy="279.3" r="6.0" fill="#fff" stroke="#000" stroke-width="1.9"/>
<circle cx="936.6" cy="282.8" r="6.0" fill="#fff" stroke="#000" stroke-width="1.9"/>
<circle cx="939.3" cy="324.8" r="6.0" fill="#000" stroke="#000" stroke-width="1.9"/>
<circle cx="941.0" cy="308.2" r="6.0" fill="#fff" stroke="#000" stroke-width="1.9"/>
<circle cx="952.1" cy="406.7" r="6.0" fill="#000" stroke="#000" stroke-width="1.9"/>
<circle cx="957.4" cy="446.9" r="6.0" fill="#fff" stroke="#000" stroke-width="1.9"/>
<circle cx="960.7" cy="449.8" r="6.0" fill="#000" stroke="#000" stroke-width="1.9"/>
<circle cx="964.1" cy="479.4" r="6.0" fill="#fff" stroke="#000" stroke-width="1.9"/>
<circle cx="967.0" cy="506.4" r="6.0" fill="#000" stroke="#000" stroke-width="1.9"/>
<circle cx="969.7" cy="540.1" r="6.0" fill="#fff" stroke="#000" stroke-width="1.9"/>
<circle cx="971.5" cy="546.9" r="6.0" fill="#000" stroke="#000" stroke-width="1.9"/>
<circle cx="973.8" cy="569.3" r="6.0" fill="#fff" stroke="#000" stroke-width="1.9"/>
<circle cx="977.6" cy="587.3" r="6.0" fill="#000" stroke="#000" stroke-width="1.9"/>
<circle cx="985.4" cy="568.2" r="6.0" fill="#fff" stroke="#000" stroke-width="1.9"/>
<circle cx="992.2" cy="553.6" r="6.0" fill="#fff" stroke="#000" stroke-width="1.9"/>
<circle cx="994.0" cy="550.2" r="6.0" fill="#fff" stroke="#000" stroke-width="1.9"/>
<circle cx="1005.7" cy="599.7" r="6.0" fill="#000" stroke="#000" stroke-width="1.9"/>
<circle cx="1009.0" cy="582.8" r="6.0" fill="#000" stroke="#000" stroke-width="1.9"/>
<circle cx="1012.4" cy="560.3" r="6.0" fill="#000" stroke="#000" stroke-width="1.9"/>
<circle cx="1014.7" cy="569.3" r="6.0" fill="#000" stroke="#000" stroke-width="1.9"/>
<circle cx="1021.9" cy="490.6" r="6.0" fill="#fff" stroke="#000" stroke-width="1.9"/>
<circle cx="1025.6" cy="489.1" r="6.0" fill="#fff" stroke="#000" stroke-width="1.9"/>
<circle cx="1038.3" cy="538.0" r="6.0" fill="#000" stroke="#000" stroke-width="1.9"/>
<circle cx="1040.7" cy="428.6" r="6.0" fill="#000" stroke="#000" stroke-width="1.9"/>
<circle cx="1043.2" cy="316.7" r="6.0" fill="#000" stroke="#000" stroke-width="1.9"/>
<circle cx="1055.6" cy="281.0" r="6.0" fill="#fff" stroke="#000" stroke-width="1.9"/>
<circle cx="1059.9" cy="341.7" r="6.0" fill="#fff" stroke="#000" stroke-width="1.9"/>
<circle cx="1066.3" cy="379.0" r="6.0" fill="#fff" stroke="#000" stroke-width="1.9"/>
<circle cx="1071.6" cy="332.1" r="6.0" fill="#000" stroke="#000" stroke-width="1.9"/>
<circle cx="1075.9" cy="341.7" r="6.0" fill="#000" stroke="#000" stroke-width="1.9"/>
<circle cx="1081.2" cy="355.5" r="6.0" fill="#fff" stroke="#000" stroke-width="1.9"/>
<circle cx="1084.4" cy="300.2" r="6.0" fill="#fff" stroke="#000" stroke-width="1.9"/>
<circle cx="1086.5" cy="299.1" r="6.0" fill="#000" stroke="#000" stroke-width="1.9"/>
<circle cx="1090.7" cy="357.7" r="6.0" fill="#000" stroke="#000" stroke-width="1.9"/>
<circle cx="1096.1" cy="376.8" r="6.0" fill="#fff" stroke="#000" stroke-width="1.9"/>
<circle cx="1097.1" cy="396.0" r="6.0" fill="#fff" stroke="#000" stroke-width="1.9"/>
<circle cx="1102.4" cy="435.3" r="6.0" fill="#fff" stroke="#000" stroke-width="1.9"/>
<circle cx="1105.6" cy="394.9" r="6.0" fill="#000" stroke="#000" stroke-width="1.9"/>
<circle cx="1109.9" cy="398.1" r="6.0" fill="#fff" stroke="#000" stroke-width="1.9"/>
<circle cx="1118.9" cy="521.7" r="6.0" fill="#000" stroke="#000" stroke-width="1.9"/>
<circle cx="1121.0" cy="533.5" r="6.0" fill="#000" stroke="#000" stroke-width="1.9"/>
<circle cx="1126.2" cy="538.8" r="6.0" fill="#000" stroke="#000" stroke-width="1.9"/>
<circle cx="1132.8" cy="524.4" r="6.0" fill="#fff" stroke="#000" stroke-width="1.9"/>
<circle cx="1135.4" cy="529.6" r="6.0" fill="#fff" stroke="#000" stroke-width="1.9"/>
<circle cx="1138.8" cy="544.0" r="6.0" fill="#fff" stroke="#000" stroke-width="1.9"/>
<circle cx="1143.3" cy="561.1" r="6.0" fill="#000" stroke="#000" stroke-width="1.9"/>
<circle cx="1145.9" cy="567.7" r="6.0" fill="#000" stroke="#000" stroke-width="1.9"/>
<circle cx="1147.2" cy="542.7" r="6.0" fill="#000" stroke="#000" stroke-width="1.9"/>
<circle cx="1156.4" cy="415.4" r="6.0" fill="#fff" stroke="#000" stroke-width="1.9"/>
<circle cx="1157.9" cy="343.8" r="6.0" fill="#fff" stroke="#000" stroke-width="1.9"/>
<circle cx="1167.9" cy="212.1" r="6.0" fill="#000" stroke="#000" stroke-width="1.9"/>
<circle cx="1170.5" cy="210.0" r="6.0" fill="#000" stroke="#000" stroke-width="1.9"/>
<circle cx="1173.1" cy="208.1" r="6.0" fill="#000" stroke="#000" stroke-width="1.9"/>
<circle cx="1183.6" cy="221.2" r="6.0" fill="#fff" stroke="#000" stroke-width="1.9"/>
<circle cx="1186.9" cy="218.0" r="6.0" fill="#000" stroke="#000" stroke-width="1.9"/>
<circle cx="1188.6" cy="342.6" r="6.0" fill="#000" stroke="#000" stroke-width="1.9"/>
<circle cx="1191.5" cy="265.9" r="6.0" fill="#000" stroke="#000" stroke-width="1.9"/>
<circle cx="1194.3" cy="356.4" r="6.0" fill="#fff" stroke="#000" stroke-width="1.9"/>
<circle cx="1195.9" cy="372.7" r="6.0" fill="#fff" stroke="#000" stroke-width="1.9"/>
<circle cx="1199.4" cy="297.4" r="6.0" fill="#000" stroke="#000" stroke-width="1.9"/>
<circle cx="1202.7" cy="256.7" r="6.0" fill="#fff" stroke="#000" stroke-width="1.9"/>
<circle cx="1205.3" cy="395.4" r="6.0" fill="#000" stroke="#000" stroke-width="1.9"/>
<circle cx="138.6" cy="686" r="2.9" fill="#000" stroke="#000" stroke-width="1.3"/>
<circle cx="140.6" cy="686" r="2.9" fill="#000" stroke="#000" stroke-width="1.3"/>
<circle cx="144.8" cy="686" r="2.9" fill="#000" stroke="#000" stroke-width="1.3"/>
<circle cx="148.0" cy="686" r="2.9" fill="#fff" stroke="#000" stroke-width="1.3"/>
<circle cx="151.1" cy="686" r="2.9" fill="#fff" stroke="#000" stroke-width="1.3"/>
<circle cx="154.2" cy="686" r="2.9" fill="#000" stroke="#000" stroke-width="1.3"/>
<circle cx="157.3" cy="686" r="2.9" fill="#000" stroke="#000" stroke-width="1.3"/>
<circle cx="159.7" cy="686" r="2.9" fill="#000" stroke="#000" stroke-width="1.3"/>
<circle cx="166.7" cy="686" r="2.9" fill="#fff" stroke="#000" stroke-width="1.3"/>
<circle cx="171.4" cy="686" r="2.9" fill="#fff" stroke="#000" stroke-width="1.3"/>
<circle cx="175.7" cy="686" r="2.9" fill="#000" stroke="#000" stroke-width="1.3"/>
<circle cx="178.5" cy="686" r="2.9" fill="#000" stroke="#000" stroke-width="1.3"/>
<circle cx="181.0" cy="686" r="2.9" fill="#000" stroke="#000" stroke-width="1.3"/>
<circle cx="183.6" cy="686" r="2.9" fill="#fff" stroke="#000" stroke-width="1.3"/>
<circle cx="186.2" cy="686" r="2.9" fill="#fff" stroke="#000" stroke-width="1.3"/>
<circle cx="188.0" cy="686" r="2.9" fill="#fff" stroke="#000" stroke-width="1.3"/>
<circle cx="193.7" cy="686" r="2.9" fill="#000" stroke="#000" stroke-width="1.3"/>
<circle cx="196.0" cy="686" r="2.9" fill="#000" stroke="#000" stroke-width="1.3"/>
<circle cx="199.1" cy="686" r="2.9" fill="#000" stroke="#000" stroke-width="1.3"/>
<circle cx="206.4" cy="686" r="2.9" fill="#fff" stroke="#000" stroke-width="1.3"/>
<circle cx="211.7" cy="686" r="2.9" fill="#fff" stroke="#000" stroke-width="1.3"/>
<circle cx="216.2" cy="686" r="2.9" fill="#fff" stroke="#000" stroke-width="1.3"/>
<circle cx="223.0" cy="686" r="2.9" fill="#000" stroke="#000" stroke-width="1.3"/>
<circle cx="226.4" cy="686" r="2.9" fill="#000" stroke="#000" stroke-width="1.3"/>
<circle cx="233.3" cy="686" r="2.9" fill="#fff" stroke="#000" stroke-width="1.3"/>
<circle cx="235.5" cy="686" r="2.9" fill="#fff" stroke="#000" stroke-width="1.3"/>
<circle cx="239.4" cy="686" r="2.9" fill="#fff" stroke="#000" stroke-width="1.3"/>
<circle cx="250.0" cy="686" r="2.9" fill="#000" stroke="#000" stroke-width="1.3"/>
<circle cx="254.0" cy="686" r="2.9" fill="#000" stroke="#000" stroke-width="1.3"/>
<circle cx="263.0" cy="686" r="2.9" fill="#fff" stroke="#000" stroke-width="1.3"/>
<circle cx="265.6" cy="686" r="2.9" fill="#fff" stroke="#000" stroke-width="1.3"/>
<circle cx="277.3" cy="686" r="2.9" fill="#000" stroke="#000" stroke-width="1.3"/>
<circle cx="278.9" cy="686" r="2.9" fill="#000" stroke="#000" stroke-width="1.3"/>
<circle cx="281.7" cy="686" r="2.9" fill="#000" stroke="#000" stroke-width="1.3"/>
<circle cx="291.1" cy="686" r="2.9" fill="#fff" stroke="#000" stroke-width="1.3"/>
<circle cx="295.2" cy="686" r="2.9" fill="#fff" stroke="#000" stroke-width="1.3"/>
<circle cx="296.8" cy="686" r="2.9" fill="#fff" stroke="#000" stroke-width="1.3"/>
<circle cx="300.1" cy="686" r="2.9" fill="#000" stroke="#000" stroke-width="1.3"/>
<circle cx="300.9" cy="686" r="2.9" fill="#000" stroke="#000" stroke-width="1.3"/>
<circle cx="303.3" cy="686" r="2.9" fill="#000" stroke="#000" stroke-width="1.3"/>
<circle cx="309.8" cy="686" r="2.9" fill="#fff" stroke="#000" stroke-width="1.3"/>
<circle cx="313.1" cy="686" r="2.9" fill="#fff" stroke="#000" stroke-width="1.3"/>
<circle cx="317.2" cy="686" r="2.9" fill="#fff" stroke="#000" stroke-width="1.3"/>
<circle cx="326.9" cy="686" r="2.9" fill="#000" stroke="#000" stroke-width="1.3"/>
<circle cx="330.5" cy="686" r="2.9" fill="#000" stroke="#000" stroke-width="1.3"/>
<circle cx="333.0" cy="686" r="2.9" fill="#000" stroke="#000" stroke-width="1.3"/>
<circle cx="338.5" cy="686" r="2.9" fill="#fff" stroke="#000" stroke-width="1.3"/>
<circle cx="343.2" cy="686" r="2.9" fill="#fff" stroke="#000" stroke-width="1.3"/>
<circle cx="347.8" cy="686" r="2.9" fill="#fff" stroke="#000" stroke-width="1.3"/>
<circle cx="354.8" cy="686" r="2.9" fill="#000" stroke="#000" stroke-width="1.3"/>
<circle cx="361.1" cy="686" r="2.9" fill="#fff" stroke="#000" stroke-width="1.3"/>
<circle cx="363.6" cy="686" r="2.9" fill="#fff" stroke="#000" stroke-width="1.3"/>
<circle cx="366.0" cy="686" r="2.9" fill="#fff" stroke="#000" stroke-width="1.3"/>
<circle cx="370.9" cy="686" r="2.9" fill="#000" stroke="#000" stroke-width="1.3"/>
<circle cx="374.9" cy="686" r="2.9" fill="#000" stroke="#000" stroke-width="1.3"/>
<circle cx="380.6" cy="686" r="2.9" fill="#fff" stroke="#000" stroke-width="1.3"/>
<circle cx="381.5" cy="686" r="2.9" fill="#fff" stroke="#000" stroke-width="1.3"/>
<circle cx="384.6" cy="686" r="2.9" fill="#000" stroke="#000" stroke-width="1.3"/>
<circle cx="386.4" cy="686" r="2.9" fill="#fff" stroke="#000" stroke-width="1.3"/>
<circle cx="389.5" cy="686" r="2.9" fill="#000" stroke="#000" stroke-width="1.3"/>
<circle cx="391.3" cy="686" r="2.9" fill="#fff" stroke="#000" stroke-width="1.3"/>
<circle cx="394.4" cy="686" r="2.9" fill="#000" stroke="#000" stroke-width="1.3"/>
<circle cx="396.2" cy="686" r="2.9" fill="#fff" stroke="#000" stroke-width="1.3"/>
<circle cx="399.3" cy="686" r="2.9" fill="#000" stroke="#000" stroke-width="1.3"/>
<circle cx="401.1" cy="686" r="2.9" fill="#fff" stroke="#000" stroke-width="1.3"/>
<circle cx="404.2" cy="686" r="2.9" fill="#000" stroke="#000" stroke-width="1.3"/>
<circle cx="406.0" cy="686" r="2.9" fill="#fff" stroke="#000" stroke-width="1.3"/>
<circle cx="409.1" cy="686" r="2.9" fill="#000" stroke="#000" stroke-width="1.3"/>
<circle cx="410.9" cy="686" r="2.9" fill="#fff" stroke="#000" stroke-width="1.3"/>
<circle cx="414.0" cy="686" r="2.9" fill="#000" stroke="#000" stroke-width="1.3"/>
<circle cx="415.8" cy="686" r="2.9" fill="#fff" stroke="#000" stroke-width="1.3"/>
<circle cx="418.9" cy="686" r="2.9" fill="#000" stroke="#000" stroke-width="1.3"/>
<circle cx="420.7" cy="686" r="2.9" fill="#fff" stroke="#000" stroke-width="1.3"/>
<circle cx="423.8" cy="686" r="2.9" fill="#000" stroke="#000" stroke-width="1.3"/>
<circle cx="425.6" cy="686" r="2.9" fill="#fff" stroke="#000" stroke-width="1.3"/>
<circle cx="428.7" cy="686" r="2.9" fill="#000" stroke="#000" stroke-width="1.3"/>
<circle cx="430.5" cy="686" r="2.9" fill="#fff" stroke="#000" stroke-width="1.3"/>
<circle cx="433.6" cy="686" r="2.9" fill="#000" stroke="#000" stroke-width="1.3"/>
<circle cx="435.4" cy="686" r="2.9" fill="#fff" stroke="#000" stroke-width="1.3"/>
<circle cx="438.5" cy="686" r="2.9" fill="#000" stroke="#000" stroke-width="1.3"/>
<circle cx="440.3" cy="686" r="2.9" fill="#fff" stroke="#000" stroke-width="1.3"/>
<circle cx="443.4" cy="686" r="2.9" fill="#000" stroke="#000" stroke-width="1.3"/>
<circle cx="445.2" cy="686" r="2.9" fill="#fff" stroke="#000" stroke-width="1.3"/>
<circle cx="448.3" cy="686" r="2.9" fill="#000" stroke="#000" stroke-width="1.3"/>
<circle cx="450.1" cy="686" r="2.9" fill="#fff" stroke="#000" stroke-width="1.3"/>
<circle cx="453.2" cy="686" r="2.9" fill="#000" stroke="#000" stroke-width="1.3"/>
<circle cx="455.0" cy="686" r="2.9" fill="#fff" stroke="#000" stroke-width="1.3"/>
<circle cx="458.1" cy="686" r="2.9" fill="#000" stroke="#000" stroke-width="1.3"/>
<circle cx="459.9" cy="686" r="2.9" fill="#fff" stroke="#000" stroke-width="1.3"/>
<circle cx="463.0" cy="686" r="2.9" fill="#000" stroke="#000" stroke-width="1.3"/>
<circle cx="464.8" cy="686" r="2.9" fill="#fff" stroke="#000" stroke-width="1.3"/>
<circle cx="467.9" cy="686" r="2.9" fill="#000" stroke="#000" stroke-width="1.3"/>
<circle cx="469.7" cy="686" r="2.9" fill="#fff" stroke="#000" stroke-width="1.3"/>
<circle cx="472.8" cy="686" r="2.9" fill="#000" stroke="#000" stroke-width="1.3"/>
<circle cx="474.6" cy="686" r="2.9" fill="#fff" stroke="#000" stroke-width="1.3"/>
<circle cx="477.7" cy="686" r="2.9" fill="#000" stroke="#000" stroke-width="1.3"/>
<circle cx="479.5" cy="686" r="2.9" fill="#fff" stroke="#000" stroke-width="1.3"/>
<circle cx="482.6" cy="686" r="2.9" fill="#000" stroke="#000" stroke-width="1.3"/>
<circle cx="484.4" cy="686" r="2.9" fill="#fff" stroke="#000" stroke-width="1.3"/>
<circle cx="487.5" cy="686" r="2.9" fill="#000" stroke="#000" stroke-width="1.3"/>
<circle cx="489.3" cy="686" r="2.9" fill="#fff" stroke="#000" stroke-width="1.3"/>
<circle cx="492.4" cy="686" r="2.9" fill="#000" stroke="#000" stroke-width="1.3"/>
<circle cx="494.2" cy="686" r="2.9" fill="#fff" stroke="#000" stroke-width="1.3"/>
<circle cx="497.3" cy="686" r="2.9" fill="#000" stroke="#000" stroke-width="1.3"/>
<circle cx="499.1" cy="686" r="2.9" fill="#fff" stroke="#000" stroke-width="1.3"/>
<circle cx="502.2" cy="686" r="2.9" fill="#000" stroke="#000" stroke-width="1.3"/>
<circle cx="504.0" cy="686" r="2.9" fill="#fff" stroke="#000" stroke-width="1.3"/>
<circle cx="507.1" cy="686" r="2.9" fill="#000" stroke="#000" stroke-width="1.3"/>
<circle cx="508.9" cy="686" r="2.9" fill="#fff" stroke="#000" stroke-width="1.3"/>
<circle cx="512.0" cy="686" r="2.9" fill="#000" stroke="#000" stroke-width="1.3"/>
<circle cx="513.8" cy="686" r="2.9" fill="#fff" stroke="#000" stroke-width="1.3"/>
<circle cx="516.9" cy="686" r="2.9" fill="#000" stroke="#000" stroke-width="1.3"/>
<circle cx="518.7" cy="686" r="2.9" fill="#fff" stroke="#000" stroke-width="1.3"/>
<circle cx="521.8" cy="686" r="2.9" fill="#000" stroke="#000" stroke-width="1.3"/>
<circle cx="523.6" cy="686" r="2.9" fill="#fff" stroke="#000" stroke-width="1.3"/>
<circle cx="526.7" cy="686" r="2.9" fill="#000" stroke="#000" stroke-width="1.3"/>
<circle cx="528.5" cy="686" r="2.9" fill="#fff" stroke="#000" stroke-width="1.3"/>
<circle cx="531.6" cy="686" r="2.9" fill="#000" stroke="#000" stroke-width="1.3"/>
<circle cx="533.4" cy="686" r="2.9" fill="#fff" stroke="#000" stroke-width="1.3"/>
<circle cx="536.5" cy="686" r="2.9" fill="#000" stroke="#000" stroke-width="1.3"/>
<circle cx="538.3" cy="686" r="2.9" fill="#fff" stroke="#000" stroke-width="1.3"/>
<circle cx="541.4" cy="686" r="2.9" fill="#000" stroke="#000" stroke-width="1.3"/>
<circle cx="543.5" cy="686" r="2.9" fill="#000" stroke="#000" stroke-width="1.3"/>
<circle cx="549.1" cy="686" r="2.9" fill="#000" stroke="#000" stroke-width="1.3"/>
<circle cx="556.5" cy="686" r="2.9" fill="#fff" stroke="#000" stroke-width="1.3"/>
<circle cx="560.5" cy="686" r="2.9" fill="#fff" stroke="#000" stroke-width="1.3"/>
<circle cx="562.2" cy="686" r="2.9" fill="#fff" stroke="#000" stroke-width="1.3"/>
<circle cx="569.7" cy="686" r="2.9" fill="#000" stroke="#000" stroke-width="1.3"/>
<circle cx="572.5" cy="686" r="2.9" fill="#000" stroke="#000" stroke-width="1.3"/>
<circle cx="576.6" cy="686" r="2.9" fill="#fff" stroke="#000" stroke-width="1.3"/>
<circle cx="579.4" cy="686" r="2.9" fill="#fff" stroke="#000" stroke-width="1.3"/>
<circle cx="582.1" cy="686" r="2.9" fill="#fff" stroke="#000" stroke-width="1.3"/>
<circle cx="586.2" cy="686" r="2.9" fill="#000" stroke="#000" stroke-width="1.3"/>
<circle cx="587.6" cy="686" r="2.9" fill="#000" stroke="#000" stroke-width="1.3"/>
<circle cx="593.1" cy="686" r="2.9" fill="#fff" stroke="#000" stroke-width="1.3"/>
<circle cx="594.5" cy="686" r="2.9" fill="#fff" stroke="#000" stroke-width="1.3"/>
<circle cx="597.9" cy="686" r="2.9" fill="#fff" stroke="#000" stroke-width="1.3"/>
<circle cx="604.1" cy="686" r="2.9" fill="#000" stroke="#000" stroke-width="1.3"/>
<circle cx="606.2" cy="686" r="2.9" fill="#000" stroke="#000" stroke-width="1.3"/>
<circle cx="607.8" cy="686" r="2.9" fill="#000" stroke="#000" stroke-width="1.3"/>
<circle cx="619.5" cy="686" r="2.9" fill="#fff" stroke="#000" stroke-width="1.3"/>
<circle cx="620.5" cy="686" r="2.9" fill="#fff" stroke="#000" stroke-width="1.3"/>
<circle cx="623.7" cy="686" r="2.9" fill="#fff" stroke="#000" stroke-width="1.3"/>
<circle cx="634.8" cy="686" r="2.9" fill="#000" stroke="#000" stroke-width="1.3"/>
<circle cx="636.0" cy="686" r="2.9" fill="#000" stroke="#000" stroke-width="1.3"/>
<circle cx="638.2" cy="686" r="2.9" fill="#000" stroke="#000" stroke-width="1.3"/>
<circle cx="649.6" cy="686" r="2.9" fill="#fff" stroke="#000" stroke-width="1.3"/>
<circle cx="651.3" cy="686" r="2.9" fill="#fff" stroke="#000" stroke-width="1.3"/>
<circle cx="652.9" cy="686" r="2.9" fill="#fff" stroke="#000" stroke-width="1.3"/>
<circle cx="663.5" cy="686" r="2.9" fill="#000" stroke="#000" stroke-width="1.3"/>
<circle cx="670.0" cy="686" r="2.9" fill="#000" stroke="#000" stroke-width="1.3"/>
<circle cx="673.2" cy="686" r="2.9" fill="#000" stroke="#000" stroke-width="1.3"/>
<circle cx="680.5" cy="686" r="2.9" fill="#fff" stroke="#000" stroke-width="1.3"/>
<circle cx="684.6" cy="686" r="2.9" fill="#fff" stroke="#000" stroke-width="1.3"/>
<circle cx="685.4" cy="686" r="2.9" fill="#fff" stroke="#000" stroke-width="1.3"/>
<circle cx="695.1" cy="686" r="2.9" fill="#000" stroke="#000" stroke-width="1.3"/>
<circle cx="697.9" cy="686" r="2.9" fill="#000" stroke="#000" stroke-width="1.3"/>
<circle cx="699.8" cy="686" r="2.9" fill="#000" stroke="#000" stroke-width="1.3"/>
<circle cx="708.0" cy="686" r="2.9" fill="#fff" stroke="#000" stroke-width="1.3"/>
<circle cx="711.5" cy="686" r="2.9" fill="#fff" stroke="#000" stroke-width="1.3"/>
<circle cx="713.8" cy="686" r="2.9" fill="#fff" stroke="#000" stroke-width="1.3"/>
<circle cx="725.4" cy="686" r="2.9" fill="#000" stroke="#000" stroke-width="1.3"/>
<circle cx="729.5" cy="686" r="2.9" fill="#000" stroke="#000" stroke-width="1.3"/>
<circle cx="737.0" cy="686" r="2.9" fill="#fff" stroke="#000" stroke-width="1.3"/>
<circle cx="740.6" cy="686" r="2.9" fill="#fff" stroke="#000" stroke-width="1.3"/>
<circle cx="742.0" cy="686" r="2.9" fill="#fff" stroke="#000" stroke-width="1.3"/>
<circle cx="747.3" cy="686" r="2.9" fill="#000" stroke="#000" stroke-width="1.3"/>
<circle cx="756.0" cy="686" r="2.9" fill="#fff" stroke="#000" stroke-width="1.3"/>
<circle cx="757.4" cy="686" r="2.9" fill="#fff" stroke="#000" stroke-width="1.3"/>
<circle cx="760.0" cy="686" r="2.9" fill="#fff" stroke="#000" stroke-width="1.3"/>
<circle cx="765.0" cy="686" r="2.9" fill="#000" stroke="#000" stroke-width="1.3"/>
<circle cx="768.5" cy="686" r="2.9" fill="#000" stroke="#000" stroke-width="1.3"/>
<circle cx="770.5" cy="686" r="2.9" fill="#000" stroke="#000" stroke-width="1.3"/>
<circle cx="773.0" cy="686" r="2.9" fill="#000" stroke="#000" stroke-width="1.3"/>
<circle cx="776.0" cy="686" r="2.9" fill="#000" stroke="#000" stroke-width="1.3"/>
<circle cx="785.0" cy="686" r="2.9" fill="#fff" stroke="#000" stroke-width="1.3"/>
<circle cx="788.0" cy="686" r="2.9" fill="#fff" stroke="#000" stroke-width="1.3"/>
<circle cx="793.0" cy="686" r="2.9" fill="#000" stroke="#000" stroke-width="1.3"/>
<circle cx="802.0" cy="686" r="2.9" fill="#000" stroke="#000" stroke-width="1.3"/>
<circle cx="811.8" cy="686" r="2.9" fill="#fff" stroke="#000" stroke-width="1.3"/>
<circle cx="814.4" cy="686" r="2.9" fill="#fff" stroke="#000" stroke-width="1.3"/>
<circle cx="832.8" cy="686" r="2.9" fill="#000" stroke="#000" stroke-width="1.3"/>
<circle cx="834.1" cy="686" r="2.9" fill="#000" stroke="#000" stroke-width="1.3"/>
<circle cx="843.3" cy="686" r="2.9" fill="#fff" stroke="#000" stroke-width="1.3"/>
<circle cx="846.7" cy="686" r="2.9" fill="#fff" stroke="#000" stroke-width="1.3"/>
<circle cx="853.8" cy="686" r="2.9" fill="#000" stroke="#000" stroke-width="1.3"/>
<circle cx="857.2" cy="686" r="2.9" fill="#000" stroke="#000" stroke-width="1.3"/>
<circle cx="871.9" cy="686" r="2.9" fill="#fff" stroke="#000" stroke-width="1.3"/>
<circle cx="874.7" cy="686" r="2.9" fill="#fff" stroke="#000" stroke-width="1.3"/>
<circle cx="876.0" cy="686" r="2.9" fill="#fff" stroke="#000" stroke-width="1.3"/>
<circle cx="885.0" cy="686" r="2.9" fill="#000" stroke="#000" stroke-width="1.3"/>
<circle cx="890.6" cy="686" r="2.9" fill="#000" stroke="#000" stroke-width="1.3"/>
<circle cx="893.4" cy="686" r="2.9" fill="#000" stroke="#000" stroke-width="1.3"/>
<circle cx="897.2" cy="686" r="2.9" fill="#fff" stroke="#000" stroke-width="1.3"/>
<circle cx="900.0" cy="686" r="2.9" fill="#fff" stroke="#000" stroke-width="1.3"/>
<circle cx="908.4" cy="686" r="2.9" fill="#000" stroke="#000" stroke-width="1.3"/>
<circle cx="911.3" cy="686" r="2.9" fill="#000" stroke="#000" stroke-width="1.3"/>
<circle cx="917.8" cy="686" r="2.9" fill="#fff" stroke="#000" stroke-width="1.3"/>
<circle cx="919.7" cy="686" r="2.9" fill="#fff" stroke="#000" stroke-width="1.3"/>
<circle cx="922.5" cy="686" r="2.9" fill="#fff" stroke="#000" stroke-width="1.3"/>
<circle cx="927.0" cy="686" r="2.9" fill="#000" stroke="#000" stroke-width="1.3"/>
<circle cx="928.8" cy="686" r="2.9" fill="#fff" stroke="#000" stroke-width="1.3"/>
<circle cx="932.3" cy="686" r="2.9" fill="#fff" stroke="#000" stroke-width="1.3"/>
<circle cx="936.6" cy="686" r="2.9" fill="#fff" stroke="#000" stroke-width="1.3"/>
<circle cx="939.3" cy="686" r="2.9" fill="#000" stroke="#000" stroke-width="1.3"/>
<circle cx="941.0" cy="686" r="2.9" fill="#fff" stroke="#000" stroke-width="1.3"/>
<circle cx="952.1" cy="686" r="2.9" fill="#000" stroke="#000" stroke-width="1.3"/>
<circle cx="957.4" cy="686" r="2.9" fill="#fff" stroke="#000" stroke-width="1.3"/>
<circle cx="960.7" cy="686" r="2.9" fill="#000" stroke="#000" stroke-width="1.3"/>
<circle cx="964.1" cy="686" r="2.9" fill="#fff" stroke="#000" stroke-width="1.3"/>
<circle cx="967.0" cy="686" r="2.9" fill="#000" stroke="#000" stroke-width="1.3"/>
<circle cx="969.7" cy="686" r="2.9" fill="#fff" stroke="#000" stroke-width="1.3"/>
<circle cx="971.5" cy="686" r="2.9" fill="#000" stroke="#000" stroke-width="1.3"/>
<circle cx="973.8" cy="686" r="2.9" fill="#fff" stroke="#000" stroke-width="1.3"/>
<circle cx="977.6" cy="686" r="2.9" fill="#000" stroke="#000" stroke-width="1.3"/>
<circle cx="985.4" cy="686" r="2.9" fill="#fff" stroke="#000" stroke-width="1.3"/>
<circle cx="992.2" cy="686" r="2.9" fill="#fff" stroke="#000" stroke-width="1.3"/>
<circle cx="994.0" cy="686" r="2.9" fill="#fff" stroke="#000" stroke-width="1.3"/>
<circle cx="1005.7" cy="686" r="2.9" fill="#000" stroke="#000" stroke-width="1.3"/>
<circle cx="1009.0" cy="686" r="2.9" fill="#000" stroke="#000" stroke-width="1.3"/>
<circle cx="1012.4" cy="686" r="2.9" fill="#000" stroke="#000" stroke-width="1.3"/>
<circle cx="1014.7" cy="686" r="2.9" fill="#000" stroke="#000" stroke-width="1.3"/>
<circle cx="1021.9" cy="686" r="2.9" fill="#fff" stroke="#000" stroke-width="1.3"/>
<circle cx="1025.6" cy="686" r="2.9" fill="#fff" stroke="#000" stroke-width="1.3"/>
<circle cx="1038.3" cy="686" r="2.9" fill="#000" stroke="#000" stroke-width="1.3"/>
<circle cx="1040.7" cy="686" r="2.9" fill="#000" stroke="#000" stroke-width="1.3"/>
<circle cx="1043.2" cy="686" r="2.9" fill="#000" stroke="#000" stroke-width="1.3"/>
<circle cx="1055.6" cy="686" r="2.9" fill="#fff" stroke="#000" stroke-width="1.3"/>
<circle cx="1059.9" cy="686" r="2.9" fill="#fff" stroke="#000" stroke-width="1.3"/>
<circle cx="1066.3" cy="686" r="2.9" fill="#fff" stroke="#000" stroke-width="1.3"/>
<circle cx="1071.6" cy="686" r="2.9" fill="#000" stroke="#000" stroke-width="1.3"/>
<circle cx="1075.9" cy="686" r="2.9" fill="#000" stroke="#000" stroke-width="1.3"/>
<circle cx="1081.2" cy="686" r="2.9" fill="#fff" stroke="#000" stroke-width="1.3"/>
<circle cx="1084.4" cy="686" r="2.9" fill="#fff" stroke="#000" stroke-width="1.3"/>
<circle cx="1086.5" cy="686" r="2.9" fill="#000" stroke="#000" stroke-width="1.3"/>
<circle cx="1090.7" cy="686" r="2.9" fill="#000" stroke="#000" stroke-width="1.3"/>
<circle cx="1096.1" cy="686" r="2.9" fill="#fff" stroke="#000" stroke-width="1.3"/>
<circle cx="1097.1" cy="686" r="2.9" fill="#fff" stroke="#000" stroke-width="1.3"/>
<circle cx="1102.4" cy="686" r="2.9" fill="#fff" stroke="#000" stroke-width="1.3"/>
<circle cx="1105.6" cy="686" r="2.9" fill="#000" stroke="#000" stroke-width="1.3"/>
<circle cx="1109.9" cy="686" r="2.9" fill="#fff" stroke="#000" stroke-width="1.3"/>
<circle cx="1118.9" cy="686" r="2.9" fill="#000" stroke="#000" stroke-width="1.3"/>
<circle cx="1121.0" cy="686" r="2.9" fill="#000" stroke="#000" stroke-width="1.3"/>
<circle cx="1126.2" cy="686" r="2.9" fill="#000" stroke="#000" stroke-width="1.3"/>
<circle cx="1132.8" cy="686" r="2.9" fill="#fff" stroke="#000" stroke-width="1.3"/>
<circle cx="1135.4" cy="686" r="2.9" fill="#fff" stroke="#000" stroke-width="1.3"/>
<circle cx="1138.8" cy="686" r="2.9" fill="#fff" stroke="#000" stroke-width="1.3"/>
<circle cx="1143.3" cy="686" r="2.9" fill="#000" stroke="#000" stroke-width="1.3"/>
<circle cx="1145.9" cy="686" r="2.9" fill="#000" stroke="#000" stroke-width="1.3"/>
<circle cx="1147.2" cy="686" r="2.9" fill="#000" stroke="#000" stroke-width="1.3"/>
<circle cx="1156.4" cy="686" r="2.9" fill="#fff" stroke="#000" stroke-width="1.3"/>
<circle cx="1157.9" cy="686" r="2.9" fill="#fff" stroke="#000" stroke-width="1.3"/>
<circle cx="1167.9" cy="686" r="2.9" fill="#000" stroke="#000" stroke-width="1.3"/>
<circle cx="1170.5" cy="686" r="2.9" fill="#000" stroke="#000" stroke-width="1.3"/>
<circle cx="1173.1" cy="686" r="2.9" fill="#000" stroke="#000" stroke-width="1.3"/>
<circle cx="1183.6" cy="686" r="2.9" fill="#fff" stroke="#000" stroke-width="1.3"/>
<circle cx="1186.9" cy="686" r="2.9" fill="#000" stroke="#000" stroke-width="1.3"/>
<circle cx="1188.6" cy="686" r="2.9" fill="#000" stroke="#000" stroke-width="1.3"/>
<circle cx="1191.5" cy="686" r="2.9" fill="#000" stroke="#000" stroke-width="1.3"/>
<circle cx="1194.3" cy="686" r="2.9" fill="#fff" stroke="#000" stroke-width="1.3"/>
<circle cx="1195.9" cy="686" r="2.9" fill="#fff" stroke="#000" stroke-width="1.3"/>
<circle cx="1199.4" cy="686" r="2.9" fill="#000" stroke="#000" stroke-width="1.3"/>
<circle cx="1202.7" cy="686" r="2.9" fill="#fff" stroke="#000" stroke-width="1.3"/>
<circle cx="1205.3" cy="686" r="2.9" fill="#000" stroke="#000" stroke-width="1.3"/>
<g font-size="13.8" fill="#000" text-anchor="middle">
<text transform="translate(144.0,714.1) rotate(-90)">G150</text>
<text transform="translate(153.6,657.6) rotate(-90)">G135</text>
<text transform="translate(159.8,714.1) rotate(-90)">G180</text>
<text transform="translate(170.8,657.6) rotate(-90)">H2O2</text>
<text transform="translate(179.4,714.1) rotate(-90)">Paraq</text>
<text transform="translate(188.3,657.6) rotate(-90)">Oxctl</text>
<text transform="translate(198.1,714.1) rotate(-90)">LBGexp</text>
<text transform="translate(210.6,657.6) rotate(-90)">dia15</text>
<text transform="translate(227.0,714.1) rotate(-90)">Diami</text>
<text transform="translate(238.0,657.6) rotate(-90)">dia5</text>
<text transform="translate(254.7,714.1) rotate(-90)">C90</text>
<text transform="translate(267.7,657.6) rotate(-90)">C30</text>
<text transform="translate(282.5,714.1) rotate(-90)">Cold</text>
<text transform="translate(296.6,657.6) rotate(-90)">LPh</text>
<text transform="translate(304.4,714.1) rotate(-90)">HPh</text>
<text transform="translate(313.8,657.6) rotate(-90)">aero</text>
<text transform="translate(332.5,714.1) rotate(-90)">nit</text>
<text transform="translate(343.8,657.6) rotate(-90)">ferm</text>
<text transform="translate(361.2,714.1) rotate(-90)">GM+150</text>
<text transform="translate(366.2,657.6) rotate(-90)">M9−tran</text>
<text transform="translate(375.0,714.1) rotate(-90)">MG+150</text>
<text transform="translate(382.5,657.6) rotate(-90)">MG+120</text>
<text transform="translate(562.9,657.6) rotate(-90)">Mal</text>
<text transform="translate(580.6,657.6) rotate(-90)">Glu</text>
<text transform="translate(598.4,657.6) rotate(-90)">BMM</text>
<text transform="translate(624.7,657.6) rotate(-90)">Etha</text>
<text transform="translate(652.8,657.6) rotate(-90)">Gly</text>
<text transform="translate(686.6,657.6) rotate(-90)">HiOs</text>
<text transform="translate(713.0,657.6) rotate(-90)">S2</text>
<text transform="translate(741.0,657.6) rotate(-90)">S4</text>
<text transform="translate(760.4,657.6) rotate(-90)">S5</text>
<text transform="translate(789.7,657.6) rotate(-90)">S7</text>
<text transform="translate(816.7,657.6) rotate(-90)">S6</text>
<text transform="translate(849.0,657.6) rotate(-90)">B36</text>
<text transform="translate(548.4,714.1) rotate(-90)">M/G</text>
<text transform="translate(574.0,714.1) rotate(-90)">Fru</text>
<text transform="translate(590.0,714.1) rotate(-90)">SMM</text>
<text transform="translate(608.8,714.1) rotate(-90)">Heat</text>
<text transform="translate(639.7,714.1) rotate(-90)">Salt</text>
<text transform="translate(667.8,714.1) rotate(-90)">HiTm</text>
<text transform="translate(699.8,714.1) rotate(-90)">S1</text>
<text transform="translate(730.0,714.1) rotate(-90)">S3</text>
<text transform="translate(752.5,714.1) rotate(-90)">S3</text>
<text transform="translate(771.0,714.1) rotate(-90)">S6</text>
<text transform="translate(797.0,714.1) rotate(-90)">S8</text>
<text transform="translate(836.6,714.1) rotate(-90)">BT</text>
<text transform="translate(858.0,714.1) rotate(-90)">B60</text>
<text transform="translate(874.4,657.6) rotate(-90)">LoTm</text>
<text transform="translate(900.6,657.6) rotate(-90)">G/S</text>
<text transform="translate(922.2,657.6) rotate(-90)">SMMPr</text>
<text transform="translate(889.4,714.1) rotate(-90)">Pyr</text>
<text transform="translate(912.8,714.1) rotate(-90)">Glucon</text>
<text transform="translate(990.7,657.6) rotate(-90)">M9−stat</text>
<text transform="translate(1010.0,714.1) rotate(-90)">BC</text>
<text transform="translate(1028.1,657.6) rotate(-90)">Sw</text>
<text transform="translate(1044.0,714.1) rotate(-90)">LPhT</text>
<text transform="translate(1061.0,657.6) rotate(-90)">LBGstat</text>
<text transform="translate(1077.0,714.1) rotate(-90)">LBGtran</text>
<text transform="translate(1086.3,657.6) rotate(-90)">M0t45</text>
<text transform="translate(1092.0,714.1) rotate(-90)">M40t45</text>
<text transform="translate(1101.3,657.6) rotate(-90)">Lbtran</text>
<text transform="translate(1110.7,714.1) rotate(-90)">Mt0</text>
<text transform="translate(1114.4,657.6) rotate(-90)">M40t45</text>
<text transform="translate(1123.8,714.1) rotate(-90)">M40t90</text>
<text transform="translate(1137.0,657.6) rotate(-90)">M0t90</text>
<text transform="translate(1148.5,714.1) rotate(-90)">Lbstat</text>
<text transform="translate(1160.5,657.6) rotate(-90)">BI</text>
<text transform="translate(1172.5,714.1) rotate(-90)">S0</text>
<text transform="translate(1187.5,657.6) rotate(-90)">M0t45</text>
<text transform="translate(1190.3,714.1) rotate(-90)">dia0</text>
<text transform="translate(1198.8,657.6) rotate(-90)">Lbexp</text>
<text transform="translate(1200.7,714.1) rotate(-90)">Mt0</text>
<text transform="translate(1207.2,657.6) rotate(-90)">Lbexp</text>
<text transform="translate(1208.0,714.1) rotate(-90)">Mt0</text>
<text transform="translate(387.5,657.6) rotate(-90)">MG+60</text>
<text transform="translate(392.2,657.6) rotate(-90)">MG+45</text>
<text transform="translate(396.9,657.6) rotate(-90)">MG+25</text>
<text transform="translate(401.6,657.6) rotate(-90)">MG+15</text>
<text transform="translate(406.3,657.6) rotate(-90)">MG+10</text>
<text transform="translate(411.0,657.6) rotate(-90)">MG+5</text>
<text transform="translate(415.7,657.6) rotate(-90)">MG+60</text>
<text transform="translate(420.4,657.6) rotate(-90)">MG+45</text>
<text transform="translate(425.1,657.6) rotate(-90)">MG+25</text>
<text transform="translate(429.8,657.6) rotate(-90)">MG+15</text>
<text transform="translate(434.5,657.6) rotate(-90)">MG−0.1</text>
<text transform="translate(439.2,657.6) rotate(-90)">MG−0.2</text>
<text transform="translate(443.9,657.6) rotate(-90)">MG−0.2</text>
<text transform="translate(450.5,657.6) rotate(-90)">Fru</text>
<text transform="translate(459.0,657.6) rotate(-90)">GM−0.2</text>
<text transform="translate(463.7,657.6) rotate(-90)">GM+5</text>
<text transform="translate(468.4,657.6) rotate(-90)">GM+10</text>
<text transform="translate(473.1,657.6) rotate(-90)">GM+15</text>
<text transform="translate(477.8,657.6) rotate(-90)">GM+25</text>
<text transform="translate(482.5,657.6) rotate(-90)">GM+45</text>
<text transform="translate(487.2,657.6) rotate(-90)">GM+60</text>
<text transform="translate(491.9,657.6) rotate(-90)">GM+90</text>
<text transform="translate(496.6,657.6) rotate(-90)">GM+120</text>
<text transform="translate(501.3,657.6) rotate(-90)">GM+150</text>
<text transform="translate(506.0,657.6) rotate(-90)">GM+5</text>
<text transform="translate(510.7,657.6) rotate(-90)">GM+10</text>
<text transform="translate(515.4,657.6) rotate(-90)">GM+15</text>
<text transform="translate(520.1,657.6) rotate(-90)">GM+25</text>
<text transform="translate(524.8,657.6) rotate(-90)">GM+60</text>
<text transform="translate(529.5,657.6) rotate(-90)">GM+45</text>
<text transform="translate(534.2,657.6) rotate(-90)">GM+60</text>
<text transform="translate(539.5,657.6) rotate(-90)">M9−exp</text>
<text transform="translate(385.0,714.1) rotate(-90)">MG+90</text>
<text transform="translate(389.7,714.1) rotate(-90)">MG+60</text>
<text transform="translate(394.4,714.1) rotate(-90)">MG+45</text>
<text transform="translate(399.1,714.1) rotate(-90)">MG+25</text>
<text transform="translate(403.8,714.1) rotate(-90)">MG+15</text>
<text transform="translate(408.5,714.1) rotate(-90)">MG+10</text>
<text transform="translate(413.2,714.1) rotate(-90)">MG+5</text>
<text transform="translate(417.9,714.1) rotate(-90)">MG+90</text>
<text transform="translate(422.6,714.1) rotate(-90)">MG+60</text>
<text transform="translate(427.3,714.1) rotate(-90)">MG+45</text>
<text transform="translate(432.0,714.1) rotate(-90)">MG+25</text>
<text transform="translate(436.7,714.1) rotate(-90)">MG−0.1</text>
<text transform="translate(441.5,714.1) rotate(-90)">NaNO3</text>
<text transform="translate(446.0,714.1) rotate(-90)">MG−0.1</text>
<text transform="translate(453.5,714.1) rotate(-90)">Glucon</text>
<text transform="translate(459.0,714.1) rotate(-90)">GM−0.1</text>
<text transform="translate(463.7,714.1) rotate(-90)">GM+5</text>
<text transform="translate(468.4,714.1) rotate(-90)">GM+10</text>
<text transform="translate(473.1,714.1) rotate(-90)">GM+15</text>
<text transform="translate(477.8,714.1) rotate(-90)">GM+25</text>
<text transform="translate(482.5,714.1) rotate(-90)">GM+45</text>
<text transform="translate(487.2,714.1) rotate(-90)">GM+60</text>
<text transform="translate(491.9,714.1) rotate(-90)">GM+90</text>
<text transform="translate(496.6,714.1) rotate(-90)">GM+120</text>
<text transform="translate(501.3,714.1) rotate(-90)">GM+150</text>
<text transform="translate(506.0,714.1) rotate(-90)">GM+25</text>
<text transform="translate(510.7,714.1) rotate(-90)">GM+5</text>
<text transform="translate(515.4,714.1) rotate(-90)">GM+90</text>
<text transform="translate(520.1,714.1) rotate(-90)">GM+25</text>
<text transform="translate(524.8,714.1) rotate(-90)">GM+5</text>
<text transform="translate(930.0,657.6) rotate(-90)">T−4.40H</text>
<text transform="translate(936.0,657.6) rotate(-90)">T−2.40H</text>
<text transform="translate(942.0,657.6) rotate(-90)">T−0.40H</text>
<text transform="translate(956.3,657.6) rotate(-90)">T1.0H</text>
<text transform="translate(961.3,657.6) rotate(-90)">T2.0H</text>
<text transform="translate(966.3,657.6) rotate(-90)">T3.0H</text>
<text transform="translate(971.0,657.6) rotate(-90)">T4.0H</text>
<text transform="translate(928.5,714.1) rotate(-90)">T−5.40H</text>
<text transform="translate(933.5,714.1) rotate(-90)">T−3.40H</text>
<text transform="translate(938.5,714.1) rotate(-90)">T−1.40H</text>
<text transform="translate(943.5,714.1) rotate(-90)">T−0.40H</text>
<text transform="translate(955.0,714.1) rotate(-90)">T0.30H</text>
<text transform="translate(960.4,714.1) rotate(-90)">T1.30H</text>
<text transform="translate(965.9,714.1) rotate(-90)">T2.30H</text>
<text transform="translate(970.5,714.1) rotate(-90)">T3.30H</text>
<text transform="translate(975.0,714.1) rotate(-90)">T4.30H</text>
<text transform="translate(979.6,714.1) rotate(-90)">T5.0H</text>
</g>
<g fill="#00ff00" font-size="26.8">
<text x="887" y="66.7">clusters</text>
<text x="967.2" y="101.4">A425 size: 28</text>
<text x="967.2" y="133.6">B9 size: 63</text>
<text x="967.2" y="165.8">C6 size: 359</text>
</g>
<g stroke="#00ff00" stroke-width="3.7" stroke-linecap="round" fill="none">
<circle cx="894.5" cy="92.3" r="2.1" fill="#00ff00" stroke="none"/>
<circle cx="907.9" cy="92.3" r="2.1" fill="#00ff00" stroke="none"/>
<circle cx="921.2" cy="92.3" r="2.1" fill="#00ff00" stroke="none"/>
<circle cx="934.8" cy="92.3" r="2.1" fill="#00ff00" stroke="none"/>
<line x1="895" y1="124.3" x2="904.9" y2="124.3"/>
<line x1="921.3" y1="124.3" x2="931.3" y2="124.3"/>
<line x1="895" y1="156.2" x2="942.8" y2="156.2"/>
</g>
</svg></body></html>
